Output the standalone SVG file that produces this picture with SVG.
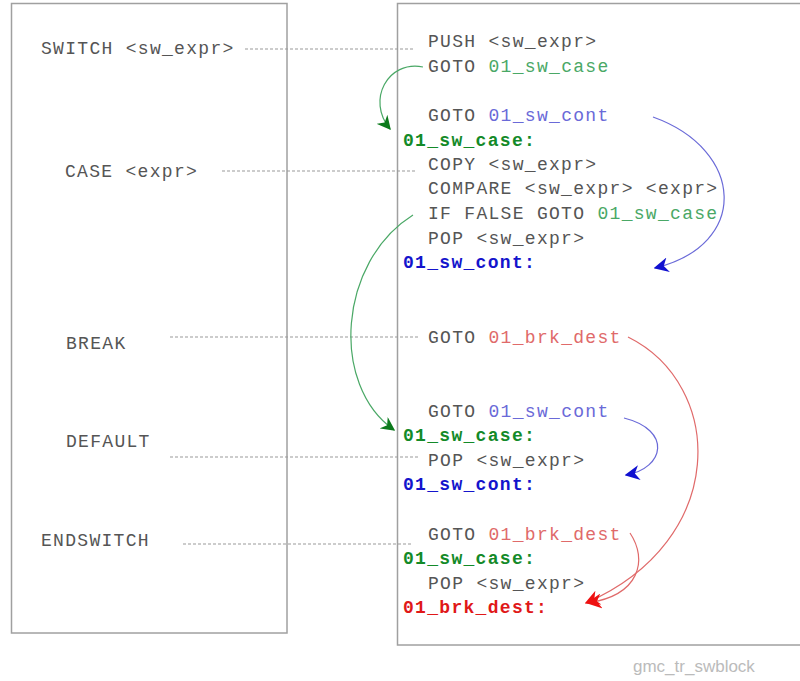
<svg xmlns="http://www.w3.org/2000/svg" width="800" height="681" viewBox="0 0 800 681">
  <style>
    .box { fill: #fff; stroke: #a0a0a0; stroke-width: 1.5; }
    .code { font-family: "Liberation Mono", "Courier New", monospace; font-size: 18px; letter-spacing: 1.3px; fill: #555; }
    .lbl { font-weight: bold; }
    .g { fill: #4aa866; }
    .b { fill: #6a6ad8; }
    .r { fill: #e06a6a; }
    .lg { fill: #138a28; }
    .lb { fill: #1414cc; }
    .lr { fill: #e01818; }
    .dash { stroke: #999; stroke-width: 1; stroke-dasharray: 3 2; fill: none; }
    .arc { fill: none; stroke-width: 1.2; }
    .mark { font-family: "Liberation Sans", Arial, sans-serif; font-size: 17px; fill: #bbb; }
  </style>
  <defs>
    <marker id="ah-green" viewBox="0 0 10 10" refX="9" refY="5" markerWidth="14" markerHeight="14" markerUnits="userSpaceOnUse" orient="auto">
      <path d="M0,0 L10,5 L0,10 L3,5 Z" fill="#0c7a1c"/>
    </marker>
    <marker id="ah-blue" viewBox="0 0 10 10" refX="9" refY="5" markerWidth="15" markerHeight="15" markerUnits="userSpaceOnUse" orient="auto">
      <path d="M0,0 L10,5 L0,10 L3,5 Z" fill="#1010d0"/>
    </marker>
    <marker id="ah-red" viewBox="0 0 10 10" refX="9" refY="5" markerWidth="15" markerHeight="15" markerUnits="userSpaceOnUse" orient="auto">
      <path d="M0,0 L10,5 L0,10 L3,5 Z" fill="#ee1111"/>
    </marker>
  </defs>

  <!-- source column -->
  <g id="source">
    <rect class="box" x="11.5" y="3.5" width="275.5" height="629.5"/>
    <text class="code" x="41" y="54">SWITCH &lt;sw_expr&gt;</text>
    <text class="code" x="65" y="177">CASE &lt;expr&gt;</text>
    <text class="code" x="66" y="349">BREAK</text>
    <text class="code" x="66" y="447">DEFAULT</text>
    <text class="code" x="41" y="546">ENDSWITCH</text>
  </g>

  <!-- generated code column -->
  <g id="generated">
    <rect class="box" x="397.5" y="3.5" width="420" height="641.5"/>
    <text class="code" x="428" y="47">PUSH &lt;sw_expr&gt;</text>
    <text class="code" x="428" y="72">GOTO <tspan class="g">01_sw_case</tspan></text>
    <text class="code" x="428" y="121">GOTO <tspan class="b">01_sw_cont</tspan></text>
    <text class="code lbl lg" x="403" y="146">01_sw_case:</text>
    <text class="code" x="428" y="170">COPY &lt;sw_expr&gt;</text>
    <text class="code" x="428" y="194">COMPARE &lt;sw_expr&gt; &lt;expr&gt;</text>
    <text class="code" x="428" y="219">IF FALSE GOTO <tspan class="g">01_sw_case</tspan></text>
    <text class="code" x="428" y="244">POP &lt;sw_expr&gt;</text>
    <text class="code lbl lb" x="403" y="268">01_sw_cont:</text>

    <text class="code" x="428" y="343">GOTO <tspan class="r">01_brk_dest</tspan></text>

    <text class="code" x="428" y="417">GOTO <tspan class="b">01_sw_cont</tspan></text>
    <text class="code lbl lg" x="403" y="441">01_sw_case:</text>
    <text class="code" x="428" y="466">POP &lt;sw_expr&gt;</text>
    <text class="code lbl lb" x="403" y="490">01_sw_cont:</text>

    <text class="code" x="428" y="540">GOTO <tspan class="r">01_brk_dest</tspan></text>
    <text class="code lbl lg" x="403" y="564">01_sw_case:</text>
    <text class="code" x="428" y="589">POP &lt;sw_expr&gt;</text>
    <text class="code lbl lr" x="403" y="613">01_brk_dest:</text>
  </g>

  <g id="connectors">
    <!-- statement-to-code dotted leaders -->
    <line class="dash" x1="245" y1="49" x2="414" y2="49"/>
    <line class="dash" x1="222" y1="171" x2="416" y2="171"/>
    <line class="dash" x1="170" y1="337" x2="418" y2="337"/>
    <line class="dash" x1="170" y1="457" x2="418" y2="457"/>
    <line class="dash" x1="183" y1="544" x2="412" y2="544"/>

    <!-- jumps -->
    <path class="arc" stroke="#4aa866" d="M423,67 C388,60 366,100 390,129" marker-end="url(#ah-green)"/>
    <path class="arc" stroke="#6a6ad8" d="M653,117 C745,150 750,245 655,268" marker-end="url(#ah-blue)"/>
    <path class="arc" stroke="#4aa866" d="M413,215 C338,262 330,385 394,430" marker-end="url(#ah-green)"/>
    <path class="arc" stroke="#e06a6a" d="M628,337 C725,385 730,540 586,603" marker-end="url(#ah-red)"/>
    <path class="arc" stroke="#6a6ad8" d="M624,418 C672,430 665,468 626,475" marker-end="url(#ah-blue)"/>
    <path class="arc" stroke="#e06a6a" d="M630,533 C648,560 640,595 588,603" marker-end="url(#ah-red)"/>
  </g>

  <text class="mark" x="633" y="672">gmc_tr_swblock</text>
</svg>
